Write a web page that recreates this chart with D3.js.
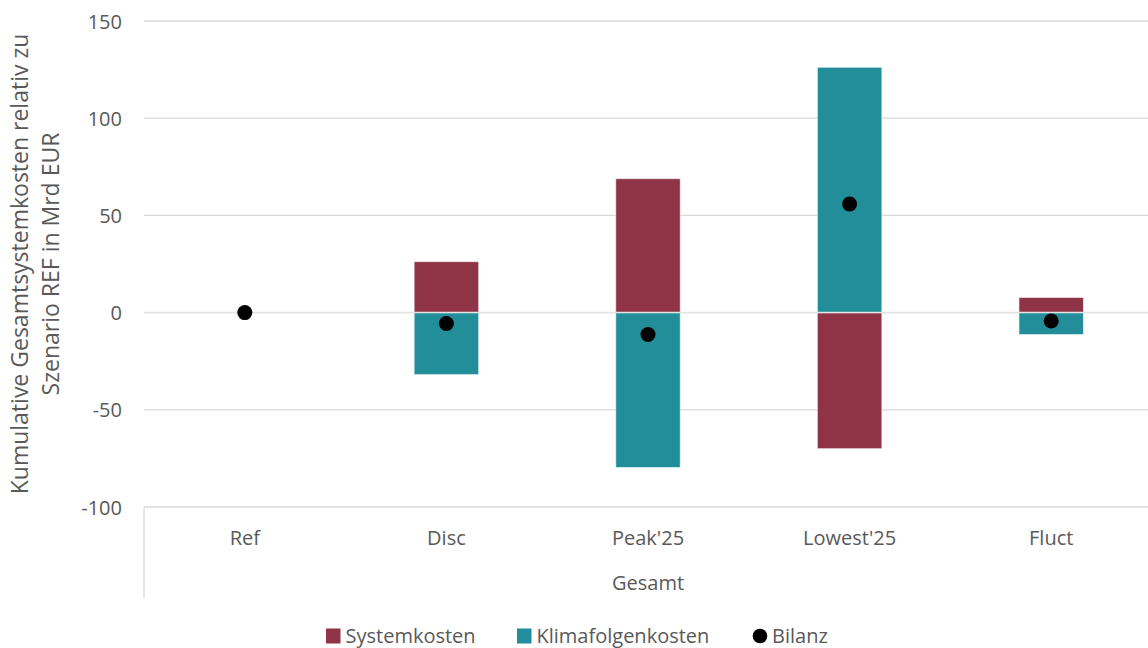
<!DOCTYPE html>
<html><head><meta charset="utf-8">
<script src="https://cdn.jsdelivr.net/npm/d3@7/dist/d3.min.js"></script>
<style>body{margin:0;background:#fff}svg{display:block}text{font-family:"Open Sans",sans-serif}</style>
</head><body><svg id="c" width="1148" height="648"></svg>
<script>
const categories = ["Ref","Disc","Peak'25","Lowest'25","Fluct"];
const systemkosten = [0, 26.2, 68.9, -70.0, 7.8];
const klimafolgenkosten = [0, -31.9, -79.7, 126.2, -11.3];
const bilanz = [0, -5.6, -11.3, 55.9, -4.3];
const yTicks = [-100,-50,0,50,100,150];
const seriesNames = ["Systemkosten","Klimafolgenkosten","Bilanz"];
const groupLabel = "Gesamt";
const yTitle = ["Kumulative Gesamtsystemkosten relativ zu","Szenario REF in Mrd EUR"];

const colRed = "#8E3446", colTeal = "#218E99", textCol = "#595959";
const svg = d3.select("#c");
const pLeft = 144, pRight = 1152, pTop = 21, pBottom = 507;
const x = d3.scaleBand().domain(categories).range([pLeft,pRight]);
const y = d3.scaleLinear().domain([-100,150]).range([pBottom, pTop]);
const FS = 20;

// grid
svg.append("g").selectAll("line").data(yTicks).join("line")
  .attr("x1",pLeft).attr("x2",pRight).attr("y1",d=>y(d)).attr("y2",d=>y(d))
  .attr("stroke","#d9d9d9").attr("stroke-width",1.3);

// y axis labels
const ya = svg.append("g").attr("transform",`translate(${pLeft-22},0)`)
  .call(d3.axisLeft(y).tickValues(yTicks).tickSize(0).tickPadding(0).tickFormat(d=>String(d)));
ya.select(".domain").remove();
ya.selectAll("text").attr("font-size",FS).attr("fill",textCol).attr("font-family","'Open Sans',sans-serif").attr("dy","0.35em");

// category axis frame
svg.append("line").attr("x1",pLeft).attr("x2",pLeft).attr("y1",pBottom).attr("y2",598).attr("stroke","#d9d9d9").attr("stroke-width",1.3);
const xa = svg.append("g").attr("transform",`translate(0,${pBottom})`)
  .call(d3.axisBottom(x).tickSize(0).tickPadding(0));
xa.select(".domain").remove();
xa.selectAll("text").attr("dy",null).attr("y",38).attr("font-size",FS).attr("fill",textCol).attr("font-family","'Open Sans',sans-serif");
svg.append("text").attr("x",(pLeft+pRight)/2).attr("y",590).attr("text-anchor","middle")
  .attr("font-size",FS).attr("fill",textCol).text(groupLabel);

// bars
const bw = x.bandwidth()*0.32;
const bars = [{vals:systemkosten,col:colRed},{vals:klimafolgenkosten,col:colTeal}];
bars.forEach(s=>{
  svg.append("g").selectAll("rect").data(categories.map((c,i)=>({c,v:s.vals[i]})).filter(d=>d.v!==0)).join("rect")
    .attr("x",d=>x(d.c)+x.bandwidth()/2-bw/2).attr("width",bw)
    .attr("y",d=>y(Math.max(0,d.v))).attr("height",d=>Math.abs(y(d.v)-y(0)))
    .attr("fill",s.col).attr("stroke","#ffffff").attr("stroke-opacity",0.6).attr("stroke-width",1);
});
// zero line over bars
svg.append("line").attr("x1",pLeft).attr("x2",pRight).attr("y1",y(0)).attr("y2",y(0)).attr("stroke","#e3e3e3").attr("stroke-width",1.5);

// bilanz dots
svg.append("g").selectAll("circle").data(categories.map((c,i)=>({c,v:bilanz[i]}))).join("circle")
  .attr("cx",d=>x(d.c)+x.bandwidth()/2).attr("cy",d=>y(d.v)).attr("r",7.5).attr("fill","#000");

// y title (centred on plot area)
const yt = svg.append("text").attr("transform",`translate(0,${(pTop+pBottom)/2}) rotate(-90)`).attr("text-anchor","middle")
  .attr("font-size",23).attr("fill",textCol);
yt.append("tspan").attr("x",0).attr("y",28).text(yTitle[0]);
yt.append("tspan").attr("x",0).attr("y",59).text(yTitle[1]);

// legend
const lg = svg.append("g").attr("transform","translate(0,636)");
const items = [{x:326,t:seriesNames[0],type:"rect",col:colRed},{x:517,t:seriesNames[1],type:"rect",col:colTeal},{x:753,t:seriesNames[2],type:"circle",col:"#000"}];
items.forEach(it=>{
  if(it.type==="rect") lg.append("rect").attr("x",it.x).attr("y",-7.5).attr("width",14.5).attr("height",15).attr("fill",it.col);
  else lg.append("circle").attr("cx",it.x+7).attr("cy",0).attr("r",7.3).attr("fill",it.col);
  lg.append("text").attr("x",it.x+(it.type==="rect"?19.5:19)).attr("y",7).attr("font-size",FS).attr("fill",textCol).text(it.t);
});
</script></body></html>
